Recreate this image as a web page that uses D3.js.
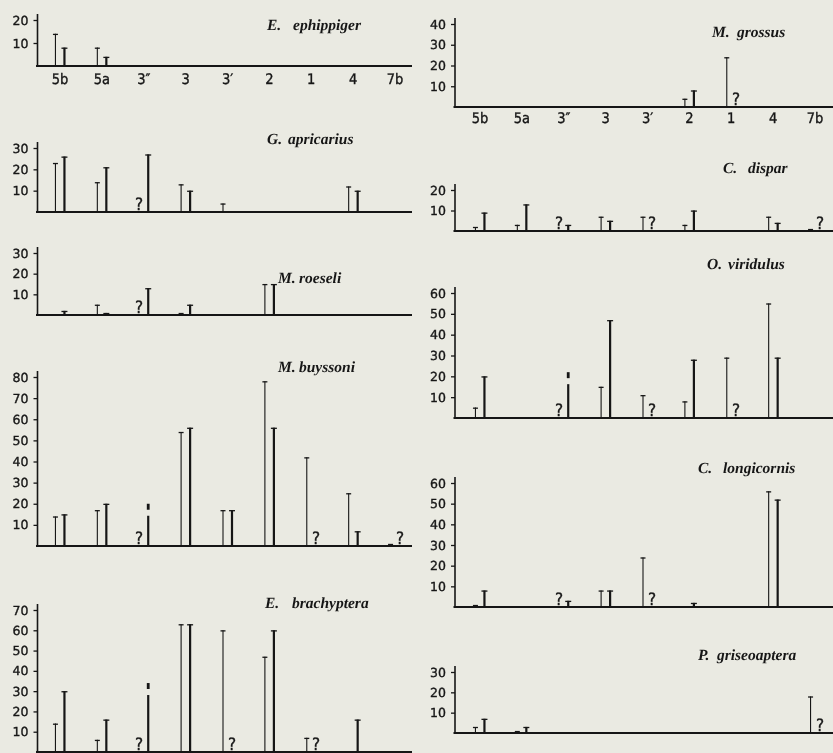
<!DOCTYPE html>
<html>
<head>
<meta charset="utf-8">
<script src="https://cdn.jsdelivr.net/npm/d3@7"></script>
<style>
  html, body { margin: 0; padding: 0; background: #eaeae2; }
  svg { display: block; will-change: transform; }
  text { text-rendering: geometricPrecision; }
</style>
</head>
<body>
<script>
// zones along the transect, same order in every panel
var zones = ["5b", "5a", "3″", "3", "3′", "2", "1", "4", "7b"];

// per zone: [first survey (thin bar), second survey (thick bar)]
// 0 = nothing heard, "?" = no count
var ephippiger   = [[14, 8], [8, 4], [0, 0], [0, 0], [0, 0], [0, 0], [0, 0], [0, 0], [0, 0]];
var apricarius   = [[23, 26], [14, 21], ["?", 27], [13, 10], [4, 0], [0, 0], [0, 0], [12, 10], [0, 0]];
var roeseli      = [[0, 2], [5, 1], ["?", 13], [1, 5], [0, 0], [15, 15], [0, 0], [0, 0], [0, 0]];
var buyssoni     = [[14, 15], [17, 20], ["?", 20], [54, 56], [17, 17], [78, 56], [42, "?"], [25, 7], [1, "?"]];
var brachyptera  = [[14, 30], [6, 16], ["?", 34], [63, 63], [60, "?"], [47, 60], [7, "?"], [0, 16], [0, 0]];
var grossus      = [[0, 0], [0, 0], [0, 0], [0, 0], [0, 0], [4, 8], [24, "?"], [0, 0], [0, 0]];
var dispar       = [[2, 9], [3, 13], ["?", 3], [7, 5], [7, "?"], [3, 10], [0, 0], [7, 4], [1, "?"]];
var viridulus    = [[5, 20], [0, 0], ["?", 22], [15, 47], [11, "?"], [8, 28], [29, "?"], [55, 29], [0, 0]];
var longicornis  = [[1, 8], [0, 0], ["?", 3], [8, 8], [24, "?"], [0, 2], [0, 0], [56, 52], [0, 0]];
var griseoaptera = [[3, 7], [1, 3], [0, 0], [0, 0], [0, 0], [0, 0], [0, 0], [0, 0], [18, "?"]];

// y tick values of each panel
var ticks20 = [10, 20];
var ticks30 = [10, 20, 30];
var ticks40 = [10, 20, 30, 40];
var ticks60 = [10, 20, 30, 40, 50, 60];
var ticks70 = [10, 20, 30, 40, 50, 60, 70];
var ticks80 = [10, 20, 30, 40, 50, 60, 70, 80];

// bars drawn broken near the top: [panel, zone index, survey index]
var brokenBars = [["buyssoni", 2, 1], ["brachyptera", 2, 1], ["viridulus", 2, 1]];

var W = 833, H = 753;
var ink = "#161616";

var columns = {
  left:  { axisX: 37.5, lineEnd: 412, band: [39, 416] },
  right: { axisX: 455,  lineEnd: 833, band: [459, 836] }
};

// layout of the ten panels
var panels = [
  { key: "ephippiger",   genus: "E.", name: "ephippiger",   data: ephippiger,   ticks: ticks20, col: "left",  base: 66,  top: 20,  tx: 267, nx: 293, ty: 30,  labels: 8 },
  { key: "apricarius",   genus: "G.", name: "apricarius",   data: apricarius,   ticks: ticks30, col: "left",  base: 212, top: 148, tx: 267, nx: 288, ty: 144 },
  { key: "roeseli",      genus: "M.", name: "roeseli",      data: roeseli,      ticks: ticks30, col: "left",  base: 315, top: 253, tx: 278, nx: 299, ty: 283 },
  { key: "buyssoni",     genus: "M.", name: "buyssoni",     data: buyssoni,     ticks: ticks80, col: "left",  base: 546, top: 377, tx: 278, nx: 299, ty: 372 },
  { key: "brachyptera",  genus: "E.", name: "brachyptera",  data: brachyptera,  ticks: ticks70, col: "left",  base: 752, top: 610, tx: 265, nx: 292, ty: 608 },
  { key: "grossus",      genus: "M.", name: "grossus",      data: grossus,      ticks: ticks40, col: "right", base: 107, top: 24,  tx: 712, nx: 737, ty: 37,  labels: 6 },
  { key: "dispar",       genus: "C.", name: "dispar",       data: dispar,       ticks: ticks20, col: "right", base: 231, top: 190, tx: 723, nx: 748, ty: 173 },
  { key: "viridulus",    genus: "O.", name: "viridulus",    data: viridulus,    ticks: ticks60, col: "right", base: 418, top: 293, tx: 707, nx: 728, ty: 269 },
  { key: "longicornis",  genus: "C.", name: "longicornis",  data: longicornis,  ticks: ticks60, col: "right", base: 607, top: 483, tx: 698, nx: 723, ty: 473 },
  { key: "griseoaptera", genus: "P.", name: "griseoaptera", data: griseoaptera, ticks: ticks30, col: "right", base: 733, top: 672, tx: 698, nx: 717, ty: 660 }
];

var svg = d3.select("body").append("svg")
  .attr("width", W)
  .attr("height", H)
  .attr("viewBox", "0 0 " + W + " " + H);

svg.append("rect").attr("width", W).attr("height", H).attr("fill", "#eaeae2");

var isBroken = function (key, i, s) {
  return brokenBars.some(function (b) { return b[0] === key && b[1] === i && b[2] === s; });
};

// printed sans labels look heavier than the screen font, thicken them a touch
var inked = function (sel) {
  sel.attr("fill", ink)
    .attr("stroke", ink)
    .attr("stroke-width", 0.35)
    .attr("paint-order", "stroke");
};

panels.forEach(function (p) {
  var col = columns[p.col];
  var maxTick = p.ticks[p.ticks.length - 1];
  var y = d3.scaleLinear().domain([0, maxTick]).range([p.base, p.top]);
  var x = d3.scaleBand().domain(zones).range(col.band);
  var g = svg.append("g").attr("class", "panel " + p.key);

  // y axis: ticks + labels from d3, own vertical line running a bit past the top tick
  var yAxis = d3.axisLeft(y)
    .tickValues(p.ticks)
    .tickSize(4)
    .tickSizeOuter(0)
    .tickPadding(5)
    .tickFormat(d3.format("d"));

  var ya = g.append("g")
    .attr("transform", "translate(" + col.axisX + ",0)")
    .call(yAxis);
  ya.select(".domain").remove();
  ya.selectAll(".tick line").attr("stroke", ink).attr("stroke-width", 1.3);
  ya.selectAll(".tick text")
    .call(inked)
    .style("font-family", "'DejaVu Sans', sans-serif")
    .style("font-size", "12.5px");

  g.append("line")
    .attr("x1", col.axisX).attr("x2", col.axisX)
    .attr("y1", p.base).attr("y2", y(maxTick) - 6)
    .attr("stroke", ink).attr("stroke-width", 1.6);

  // baseline
  g.append("line")
    .attr("x1", col.axisX - 1.5).attr("x2", col.lineEnd)
    .attr("y1", p.base).attr("y2", p.base)
    .attr("stroke", ink).attr("stroke-width", 2);

  // zone labels only under the two top panels
  if (p.labels) {
    var xAxis = d3.axisBottom(x).tickSize(0).tickPadding(p.labels);
    var xa = g.append("g")
      .attr("transform", "translate(0," + p.base + ")")
      .call(xAxis);
    xa.select(".domain").remove();
    xa.selectAll(".tick text")
      .call(inked)
      .style("font-family", "'DejaVu Sans Condensed', 'DejaVu Sans', sans-serif")
      .style("font-size", "14.5px");
  }

  // bars: thin (first survey) left, thick (second survey) right of the zone centre
  var marks = [];
  p.data.forEach(function (pair, i) {
    pair.forEach(function (v, s) {
      marks.push({ zone: zones[i], i: i, s: s, v: v });
    });
  });

  var cx = function (d) {
    return x(d.zone) + x.bandwidth() / 2 + (d.s === 0 ? -4.5 : 4.5);
  };

  var bars = marks.filter(function (d) { return typeof d.v === "number" && d.v > 0; });

  bars.forEach(function (d) {
    var bx = cx(d);
    var w = d.s === 0 ? 1.1 : 2.2;
    var cap = d.s === 0 ? 2.5 : 3;
    if (isBroken(p.key, d.i, d.s)) {
      g.append("line")
        .attr("x1", bx).attr("x2", bx)
        .attr("y1", p.base).attr("y2", y(d.v) + 12)
        .attr("stroke", ink).attr("stroke-width", w);
      g.append("line")
        .attr("x1", bx).attr("x2", bx)
        .attr("y1", y(d.v) + 6).attr("y2", y(d.v))
        .attr("stroke", ink).attr("stroke-width", w + 0.6);
      return;
    }
    g.append("line")
      .attr("x1", bx).attr("x2", bx)
      .attr("y1", p.base).attr("y2", y(d.v))
      .attr("stroke", ink).attr("stroke-width", w);
    g.append("line")
      .attr("x1", bx - cap).attr("x2", bx + cap)
      .attr("y1", y(d.v) + 0.6).attr("y2", y(d.v) + 0.6)
      .attr("stroke", ink).attr("stroke-width", 1.3);
  });

  g.selectAll(".q")
    .data(marks.filter(function (d) { return d.v === "?"; }))
    .enter().append("text")
    .attr("class", "q")
    .attr("x", function (d) { return Math.round(cx(d)); })
    .attr("y", p.base - 2.5)
    .attr("text-anchor", "middle")
    .call(inked)
    .style("font-family", "'DejaVu Sans Condensed', 'DejaVu Sans', sans-serif")
    .style("font-size", "17px")
    .text("?");

  // species title
  var t = g.append("text")
    .attr("y", p.ty)
    .attr("fill", ink)
    .style("font-family", "'Liberation Serif', 'Times New Roman', serif")
    .style("font-weight", "bold")
    .style("font-style", "italic")
    .style("font-size", "15.5px");
  t.append("tspan").attr("x", p.tx).text(p.genus);
  t.append("tspan").attr("x", p.nx).text(p.name);
});
</script>
</body>
</html>
